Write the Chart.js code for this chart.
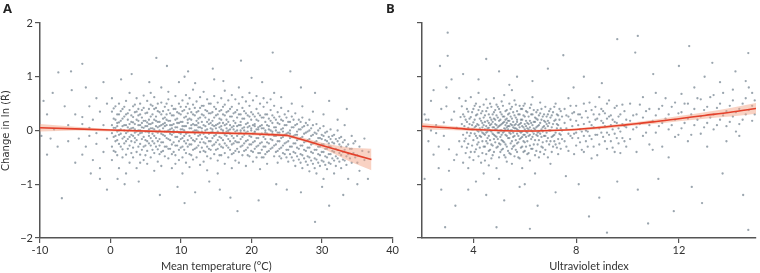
<!DOCTYPE html>
<html>
<head>
<meta charset="utf-8">
<script src="https://cdn.jsdelivr.net/npm/chart.js@4/dist/chart.umd.min.js"></script>
<style>
  html,body{margin:0;padding:0;background:#fff;}
  #wrap{position:relative;width:760px;height:273px;overflow:hidden;}
  .panel{position:absolute;top:0;height:273px;}
  .lab{position:absolute;top:-1px;font:bold 13px "Open Sans",sans-serif;color:#222;}
</style>
</head>
<body>
<div id="wrap">
  <div class="panel" style="left:0;width:400px;"><canvas id="cA" width="400" height="273"></canvas></div>
  <div class="panel" style="left:380px;width:380px;"><canvas id="cB" width="380" height="273"></canvas></div>
  <div class="lab" style="left:3px;">A</div>
  <div class="lab" style="left:386px;">B</div>
</div>
<script>
// ---------- Data ----------
const yTicks = [-2, -1, 0, 1, 2];
const tempTicks = [-10, 0, 10, 20, 30, 40];
const uvTicks = [4, 8, 12];

// Panel A: scatter columns [temperature, [changes]]
const tempCloud = [
 [0.2,[0.35,0.1,-0.05,-0.3,-0.55,0.6]],
 [0.7,[0.2,-0.1,-0.2,0.45,-0.4,0.05]],
 [1.2,[0.5,0.15,-0.08,-0.25,-0.7,0.3,0.0]],
 [1.7,[0.4,0.22,-0.15,-0.35,0.08,-0.5]],
 [2.2,[0.55,0.3,0.1,-0.05,-0.2,-0.45,-0.8]],
 [2.7,[0.38,0.12,-0.12,-0.28,0.02,-0.6,0.7]],
 [3.2,[0.45,0.25,0.05,-0.1,-0.32,-0.5,0.15]],
 [3.7,[0.6,0.2,-0.02,-0.18,-0.4,0.35,-0.7]],
 [4.2,[0.5,0.3,0.1,-0.05,-0.25,-0.45,0.0,-0.6]],
 [4.7,[0.42,0.18,0.05,-0.12,-0.3,-0.55,0.65]],
 [5.2,[0.55,0.33,0.15,-0.02,-0.2,-0.38,-0.62,0.08]],
 [5.7,[0.48,0.26,0.04,-0.14,-0.28,-0.5,0.7,0.12]],
 [6.2,[0.62,0.4,0.2,0.02,-0.1,-0.24,-0.42,-0.75]],
 [6.7,[0.36,0.16,-0.04,-0.2,-0.35,0.5,-0.58,0.06]],
 [7.2,[0.52,0.3,0.1,-0.06,-0.22,-0.4,-0.66,0.8]],
 [7.7,[0.44,0.24,0.08,-0.1,-0.3,-0.48,0.14,-0.02]],
 [8.2,[0.58,0.38,0.18,0.0,-0.16,-0.34,-0.52,0.72]],
 [8.7,[0.46,0.28,0.1,-0.08,-0.26,-0.44,-0.7,0.04]],
 [9.2,[0.64,0.4,0.2,0.06,-0.12,-0.28,-0.46,-0.62]],
 [9.7,[0.5,0.32,0.14,-0.04,-0.2,-0.36,-0.55,0.9]],
 [10.2,[0.56,0.36,0.16,0.02,-0.14,-0.3,-0.5,-0.8,0.08]],
 [10.7,[0.44,0.26,0.08,-0.06,-0.24,-0.42,0.66,-0.6]],
 [11.2,[0.6,0.4,0.22,0.04,-0.1,-0.26,-0.44,-0.68]],
 [11.7,[0.48,0.3,0.12,-0.02,-0.18,-0.36,-0.54,0.76]],
 [12.2,[0.54,0.34,0.18,0.0,-0.16,-0.32,-0.5,0.1]],
 [12.7,[0.62,0.42,0.24,0.06,-0.08,-0.22,-0.4,-0.64]],
 [13.2,[0.46,0.28,0.1,-0.06,-0.22,-0.38,-0.58,0.72]],
 [13.7,[0.58,0.36,0.16,0.02,-0.14,-0.3,-0.48,-0.74]],
 [14.2,[0.5,0.32,0.14,-0.04,-0.2,-0.36,-0.52,0.04]],
 [14.7,[0.64,0.44,0.24,0.08,-0.1,-0.26,-0.44,0.95]],
 [15.2,[0.52,0.3,0.12,-0.02,-0.18,-0.34,-0.56,-0.8]],
 [15.7,[0.6,0.38,0.2,0.02,-0.14,-0.3,-0.46,0.08]],
 [16.2,[0.48,0.28,0.1,-0.08,-0.24,-0.42,-0.62,0.74]],
 [16.7,[0.56,0.36,0.16,0.0,-0.16,-0.32,-0.5,-0.04]],
 [17.2,[0.44,0.26,0.06,-0.1,-0.26,-0.44,0.66,-0.7]],
 [17.7,[0.58,0.34,0.14,-0.02,-0.2,-0.38,-0.56]],
 [18.2,[0.5,0.3,0.1,-0.06,-0.22,-0.4,0.8,-0.6]],
 [18.7,[0.42,0.22,0.04,-0.12,-0.28,-0.46,0.62]],
 [19.2,[0.54,0.32,0.12,-0.04,-0.2,-0.36,-0.66]],
 [19.7,[0.46,0.26,0.08,-0.1,-0.26,-0.48,0.7]],
 [20.2,[0.56,0.3,0.1,-0.06,-0.22,-0.4,-0.58]],
 [20.7,[0.4,0.2,0.02,-0.14,-0.3,-0.5,0.64]],
 [21.2,[0.5,0.28,0.08,-0.08,-0.24,-0.42,-0.72]],
 [21.7,[0.44,0.24,0.04,-0.12,-0.3,-0.5,0.6]],
 [22.2,[0.52,0.3,0.1,-0.06,-0.22,-0.4,-0.62]],
 [22.7,[0.38,0.18,0.0,-0.16,-0.34,0.58]],
 [23.2,[0.46,0.24,0.06,-0.1,-0.28,-0.48,0.7]],
 [23.7,[0.34,0.14,-0.04,-0.2,-0.38,-0.6]],
 [24.2,[0.42,0.2,0.02,-0.14,-0.32,-0.52,0.62]],
 [24.7,[0.3,0.1,-0.08,-0.24,-0.44]],
 [25.2,[0.36,0.16,-0.04,-0.2,-0.36,-0.58]],
 [25.7,[0.26,0.06,-0.12,-0.3,-0.5,0.5]],
 [26.2,[0.32,0.1,-0.08,-0.24,-0.42,-0.66]],
 [26.7,[0.2,0.02,-0.16,-0.34,-0.54]],
 [27.2,[0.24,0.06,-0.12,-0.28,-0.46,-0.7,0.45]],
 [27.7,[0.14,-0.04,-0.2,-0.38,-0.58]],
 [28.2,[0.2,0.0,-0.16,-0.32,-0.5,-0.76]],
 [28.7,[0.1,-0.08,-0.24,-0.42,-0.62,0.35]],
 [29.2,[0.12,-0.06,-0.2,-0.36,-0.54,-0.8]],
 [29.7,[0.04,-0.14,-0.3,-0.46,-0.66]],
 [30.2,[0.08,-0.1,-0.26,-0.4,-0.58,-0.9,0.3]],
 [30.7,[-0.02,-0.2,-0.34,-0.5,-0.72]],
 [31.2,[0.02,-0.16,-0.3,-0.44,-0.62]],
 [31.7,[-0.08,-0.24,-0.4,-0.56,-0.8]],
 [32.2,[0.0,-0.2,-0.36,-0.52,0.2]],
 [32.7,[-0.12,-0.3,-0.46,-0.7]],
 [33.2,[-0.18,-0.36,-0.56,0.1]],
 [33.7,[-0.26,-0.44,-0.9]],
 [34.2,[-0.1,-0.34,-0.6]],
 [34.7,[-0.2,-0.5]],
 [35.3,[-0.3,-0.75]],
 [36.0,[-0.15,-0.55]],
 [36.6,[-0.4]]
];
// Panel A: second set of columns (the denser core of the cloud)
const tempCore = [
 [0.45,[0.22,-0.12,0.05,-0.38,0.41]],[0.95,[0.3,0.08,-0.18,-0.02,-0.46,0.14]],
 [1.45,[0.18,-0.06,0.36,-0.3,0.02]],[1.95,[0.26,0.0,-0.12,0.44,-0.24,0.1]],
 [2.45,[0.2,-0.16,0.06,-0.34,0.32,-0.02]],[2.95,[0.28,0.04,-0.2,0.16,-0.08,-0.42]],
 [3.45,[0.34,0.12,-0.04,-0.22,0.02,-0.14,0.48]],[3.95,[0.1,-0.08,0.28,-0.3,0.18,0.0,0.4]],
 [4.45,[0.24,0.06,-0.16,-0.36,0.14,-0.04,0.38]],[4.95,[0.32,0.18,-0.02,-0.18,0.08,-0.28,-0.46]],
 [5.45,[0.2,0.02,-0.1,0.4,-0.24,0.12,-0.04]],[5.95,[0.3,0.14,-0.06,-0.2,0.04,-0.36,0.46]],
 [6.45,[0.26,0.08,-0.14,0.18,-0.3,-0.02,0.42]],[6.95,[0.34,0.16,0.0,-0.16,-0.28,0.08,-0.44]],
 [7.45,[0.22,0.04,-0.08,0.36,-0.22,0.12,-0.38]],[7.95,[0.3,0.1,-0.02,-0.14,0.2,-0.3,0.5]],
 [8.45,[0.18,0.02,-0.18,0.32,-0.06,-0.34,0.1]],[8.95,[0.28,0.12,-0.04,-0.22,0.4,0.0,-0.4]],
 [9.45,[0.22,0.06,-0.12,0.34,-0.28,0.14,-0.02]],[9.95,[0.3,0.16,0.02,-0.16,-0.32,0.44,-0.06]],
 [10.45,[0.24,0.08,-0.1,0.38,-0.2,0.0,-0.36]],[10.95,[0.32,0.14,-0.04,-0.18,0.2,-0.3,0.5]],
 [11.45,[0.2,0.04,-0.14,0.34,-0.26,0.1,-0.46]],[11.95,[0.28,0.1,-0.06,-0.2,0.42,0.0,-0.34]],
 [12.45,[0.22,0.06,-0.1,0.36,-0.28,0.14,-0.02]],[12.95,[0.3,0.16,-0.02,-0.16,0.46,-0.32,0.04]],
 [13.45,[0.24,0.08,-0.12,0.38,-0.24,0.0,-0.4]],[13.95,[0.32,0.12,-0.06,-0.2,0.2,-0.34,0.5]],
 [14.45,[0.18,0.02,-0.14,0.34,-0.28,0.1,-0.02]],[14.95,[0.28,0.1,-0.08,-0.22,0.4,-0.36,0.04]],
 [15.45,[0.22,0.06,-0.12,0.36,-0.26,0.14,-0.46]],[15.95,[0.3,0.14,-0.04,-0.18,0.44,0.0,-0.32]],
 [16.45,[0.2,0.04,-0.1,0.34,-0.28,0.12,-0.02]],[16.95,[0.26,0.1,-0.06,-0.2,0.4,-0.36,0.02]],
 [17.45,[0.18,0.02,-0.14,0.32,-0.24,0.08,-0.42]],[17.95,[0.24,0.08,-0.1,-0.22,0.38,0.0,-0.34]],
 [18.45,[0.16,0.0,-0.16,0.3,-0.3,0.1,-0.04]],[18.95,[0.22,0.06,-0.08,-0.24,0.36,-0.38,0.0]],
 [19.45,[0.14,-0.02,-0.18,0.28,-0.32,0.06,-0.46]],[19.95,[0.2,0.04,-0.12,-0.26,0.34,0.0,-0.38]],
 [20.45,[0.12,-0.04,-0.2,0.26,-0.34,0.08,-0.02]],[20.95,[0.18,0.02,-0.14,-0.28,0.32,-0.42,0.06]],
 [21.45,[0.1,-0.06,-0.22,0.24,-0.36,0.04,-0.5]],[21.95,[0.16,0.0,-0.16,-0.3,0.3,-0.04,-0.44]],
 [22.45,[0.08,-0.08,-0.24,0.22,-0.38,0.02]],[22.95,[0.14,-0.02,-0.18,-0.32,0.28,-0.06]],
 [23.45,[0.06,-0.1,-0.26,0.2,-0.4,0.0]],[23.95,[0.12,-0.04,-0.2,-0.34,0.26,-0.48]],
 [24.45,[0.04,-0.12,-0.28,0.18,-0.42,-0.02]],[24.95,[0.1,-0.06,-0.22,-0.36,0.24,-0.5]],
 [25.45,[0.0,-0.14,-0.3,0.16,-0.44,-0.06]],[25.95,[0.06,-0.1,-0.24,-0.4,0.2,-0.56]],
 [26.45,[-0.02,-0.18,-0.32,0.12,-0.48,-0.08]],[26.95,[0.02,-0.14,-0.28,-0.44,0.16,-0.6]],
 [27.45,[-0.06,-0.22,-0.36,0.08,-0.52]],[27.95,[-0.02,-0.18,-0.32,-0.48,0.1,-0.64]],
 [28.45,[-0.1,-0.26,-0.4,0.04,-0.56]],[28.95,[-0.04,-0.22,-0.36,-0.52,-0.7]],
 [29.45,[-0.14,-0.3,-0.44,0.0,-0.6]],[29.95,[-0.08,-0.26,-0.4,-0.56,-0.16]],
 [30.45,[-0.18,-0.34,-0.48,-0.04,-0.64]],[30.95,[-0.12,-0.3,-0.44,-0.6,-0.24]],
 [31.45,[-0.22,-0.38,-0.52,-0.1]],[31.95,[-0.16,-0.34,-0.48,-0.66]],
 [32.45,[-0.26,-0.42,-0.58,-0.14]],[32.95,[-0.22,-0.4,-0.54]],
 [33.45,[-0.3,-0.48,-0.64]],[33.95,[-0.34,-0.52]],[34.45,[-0.42,-0.24]],[35.0,[-0.46,-0.6]],[35.7,[-0.38]]
];
const tempOutliers = [
 [-9.5,0.55],[-9,0.3],[-8.2,0.7],[-7.4,1.08],[-6.5,0.45],[-5.6,1.1],[-5.5,0.75],[-5,0.3],[-4,1.24],[-4,0.25],
 [-3.5,0.8],[-3,0.45],[-2.5,0.2],[-2,0.6],[-1.5,0.35],[-1,0.9],[-0.5,0.5],[-9.8,-0.1],[-9,-0.45],[-8.5,-0.15],
 [-7.5,-0.3],[-6.9,-1.26],[-6,-0.2],[-5,-0.6],[-4.5,-0.15],[-4,-0.45],[-3.5,-0.3],[-3,-0.1],[-2.5,-0.55],[-2,-0.25],
 [-1.5,-0.7],[-1,-0.4],[-0.5,-0.15],[-3,0.05],[-1,0.1],[-6,0.1],[-2,-0.05],[-8,0.02],[-4,0.12],[-1.5,-0.9],[-0.5,-1.1],[-2.8,-0.8],
 [1.5,0.95],[3,1.05],[5.5,0.9],[8,1.2],[10.5,1.0],[12,0.88],[14.5,1.15],[16,0.92],[18.5,1.3],[20,0.98],[23,1.45],
 [25.5,1.1],[21.5,0.9],[27,0.8],[29,0.7],[31,0.55],[33.5,0.4],[6.5,1.35],[11,1.1],
 [2,-1.0],[4,-0.95],[7,-1.2],[9.5,-1.05],[12,-1.15],[14,-0.95],[17,-1.25],[18,-1.5],[21,-1.3],[23.5,-1.0],[25,-1.1],
 [27,-1.15],[29,-1.7],[31,-1.4],[33,-1.2],[35,-1.0],[30,-1.05],[10.5,-1.35],[15.5,-1.1],[1,-0.9],[36.5,-0.9]
];
// Panel A: fitted curve and 95% band
const tempFitX = [-10, -5, 0, 10, 20, 25, 28, 30, 32, 34, 37];
const tempFit  = [0.05, 0.03, 0.01, -0.03, -0.06, -0.09, -0.2, -0.28, -0.355, -0.43, -0.54];
const tempLo   = [-0.02, 0.0, -0.02, -0.05, -0.09, -0.12, -0.23, -0.33, -0.45, -0.58, -0.74];
const tempHi   = [0.12, 0.07, 0.03, -0.01, -0.03, -0.06, -0.16, -0.23, -0.28, -0.32, -0.34];

// Panel B: scatter columns [UV index, [changes]]
const uvCloud = [
 [2.1,[0.3,-0.9]],[2.15,[0.2]],[2.25,[-0.2,0.2]],[2.35,[0.55,0.0]],[2.45,[-0.45,0.75]],[2.55,[0.1,-0.05]],
 [2.65,[-0.7,-0.3]],[2.75,[0.4,-1.1]],[2.85,[-0.1,0.15]],[2.95,[0.8,0.45]],[3.05,[-0.35,-0.75]],[3.15,[0.2,0.95]],
 [3.25,[-0.55,0.35]],[3.35,[0.05,-0.45]],[3.45,[0.6,-0.2]],[3.5,[0.25]],
 [3.55,[0.12,-0.3,0.45]],[3.6,[-0.08,0.3,-0.6]],[3.7,[0.2,-0.15,0.55,-0.42]],[3.8,[0.05,-0.25,0.35,-0.7]],
 [3.9,[-0.05,0.25,-0.4,0.62]],[4.0,[0.15,-0.18,0.4,-0.55,0.02]],[4.1,[-0.1,0.28,-0.35,0.5,0.08]],
 [4.2,[0.1,-0.22,0.38,-0.48,-0.02,0.7]],[4.3,[0.18,-0.12,0.32,-0.6,0.0]],[4.4,[-0.06,0.24,-0.3,0.48,-0.8,0.1]],
 [4.5,[0.08,-0.2,0.36,-0.44,0.58,-0.04]],[4.6,[0.14,-0.1,0.3,-0.38,0.05,-0.65]],[4.7,[-0.02,0.2,-0.26,0.44,-0.52,0.12]],
 [4.8,[0.06,-0.16,0.34,-0.4,0.6,-0.08,0.22]],[4.9,[0.1,-0.12,0.28,-0.32,-0.7,0.02,0.48]],
 [5.0,[-0.04,0.18,-0.24,0.4,-0.5,0.08,-0.9]],[5.1,[0.12,-0.08,0.3,-0.36,0.54,0.0,-0.18]],
 [5.2,[0.04,-0.22,0.26,-0.46,0.16,-0.02,0.66]],[5.3,[-0.1,0.14,-0.3,0.38,-0.58,0.06,0.22]],
 [5.4,[0.08,-0.14,0.32,-0.42,0.5,-0.04,0.18]],[5.5,[0.0,0.22,-0.2,0.44,-0.34,0.1,-0.62,0.75]],
 [5.6,[0.1,-0.1,0.28,-0.28,0.04,-0.48,0.56]],[5.7,[-0.06,0.16,-0.24,0.36,-0.4,0.02,0.2]],
 [5.8,[0.06,-0.16,0.3,-0.52,0.12,-0.02,0.46]],[5.9,[-0.02,0.2,-0.3,0.4,-0.12,0.08,-0.7]],
 [6.0,[0.12,-0.08,0.26,-0.38,0.5,-0.22,0.02]],[6.1,[0.04,-0.2,0.34,-0.44,0.14,-0.04]],
 [6.2,[-0.08,0.18,-0.28,0.42,0.06,-0.56]],[6.3,[0.1,-0.12,0.3,-0.34,0.62,-0.02]],
 [6.4,[0.02,-0.18,0.24,-0.46,0.16,-0.8]],[6.5,[-0.04,0.2,-0.26,0.38,0.08,-0.1]],
 [6.6,[0.14,-0.06,0.32,-0.4,0.52]],[6.7,[0.06,-0.22,0.26,-0.32,-0.02]],[6.8,[-0.1,0.16,-0.36,0.44,0.04]],
 [6.9,[0.08,-0.14,0.3,-0.5,0.18]],[7.0,[0.0,0.24,-0.2,0.4,-0.62]],[7.1,[0.12,-0.1,0.34,-0.3]],
 [7.2,[-0.04,0.2,-0.26,0.5]],[7.3,[0.1,-0.16,0.28,-0.44]],[7.4,[0.04,-0.08,0.36,-0.34]],
 [7.55,[0.14,-0.2,0.4]],[7.7,[-0.06,0.26,-0.38,0.6]],[7.85,[0.08,-0.14,0.32]],[8.0,[0.18,-0.28,0.46,-0.04]],
 [8.15,[0.02,-0.22,0.3]],[8.3,[0.12,-0.1,0.5,-0.4]],[8.45,[-0.02,0.24,-0.3]],[8.6,[0.1,-0.16,0.38,-0.52]],
 [8.75,[0.2,-0.08,0.44]],[8.9,[0.04,-0.26,0.3,0.62]],[9.05,[0.14,-0.12,0.36]],[9.2,[-0.04,0.22,-0.34,0.5]],
 [9.35,[0.1,-0.2,0.28]],[9.5,[0.16,-0.06,0.42,-0.4]],[9.65,[0.04,0.26,-0.24]],[9.8,[0.12,-0.14,0.48]],
 [9.95,[0.2,-0.3,0.06]],
 [10.1,[0.18,-0.16,0.5]],[10.35,[0.06,0.3,-0.4]],[10.6,[0.24,-0.1,0.62]],[10.85,[0.1,0.4,-0.26]],
 [11.1,[0.28,-0.04,0.7]],[11.35,[0.14,0.46,-0.3]],[11.6,[0.3,0.02,-0.5]],[11.85,[0.2,0.52,-0.12]],
 [12.1,[0.34,0.04,0.68]],[12.35,[0.22,-0.2,0.5]],[12.6,[0.4,0.1,0.8]],[12.85,[0.26,-0.06,0.58]],
 [13.1,[0.44,0.14,-0.3]],[13.35,[0.3,0.66,0.02]],[13.6,[0.5,0.2,0.9]],[13.85,[0.36,0.08,-0.2]],
 [14.1,[0.56,0.26,0.76]],[14.35,[0.4,0.12,-0.1]],[14.6,[0.6,0.3,0.92]],[14.85,[0.46,0.18,0.7]]
];
// Panel B: second set of columns (denser core)
const uvCore = [
 [3.65,[0.08,-0.2,0.26]],[3.75,[-0.04,0.16,-0.32,0.4]],[3.85,[0.12,-0.1,0.22,-0.5]],[3.95,[0.02,-0.28,0.34,0.1]],
 [4.05,[0.2,-0.06,-0.4,0.46,0.06]],[4.15,[-0.14,0.12,0.3,-0.26,0.0]],[4.25,[0.04,-0.32,0.22,0.44,-0.1]],
 [4.35,[0.14,-0.04,-0.2,0.36,-0.42,0.06]],[4.45,[-0.08,0.28,0.02,-0.3,0.16,-0.56]],
 [4.55,[0.18,-0.14,0.04,0.42,-0.24,-0.02]],[4.65,[0.0,0.24,-0.18,0.1,-0.36,0.5]],
 [4.75,[0.16,-0.06,0.3,-0.28,0.06,-0.46]],[4.85,[-0.1,0.2,0.02,-0.22,0.38,0.12]],
 [4.95,[0.06,-0.3,0.24,-0.04,0.44,-0.16]],[5.05,[0.2,0.0,-0.12,0.34,-0.4,0.1,-0.26]],
 [5.15,[-0.04,0.26,-0.2,0.14,0.46,-0.34]],[5.25,[0.1,-0.08,0.36,-0.26,0.02,-0.5,0.2]],
 [5.35,[0.02,0.18,-0.14,0.3,-0.38,0.08]],[5.45,[-0.06,0.12,0.4,-0.24,0.0,-0.44,0.26]],
 [5.55,[0.16,-0.12,0.06,-0.3,0.34,-0.04]],[5.65,[0.04,0.24,-0.18,0.48,-0.36,0.12]],
 [5.75,[-0.1,0.1,0.3,-0.22,0.0,-0.5]],[5.85,[0.2,-0.04,0.14,-0.32,0.4,-0.14]],
 [5.95,[0.06,-0.2,0.28,-0.08,0.46,-0.4]],[6.05,[-0.02,0.18,-0.3,0.36,0.08,-0.12]],
 [6.15,[0.12,-0.1,0.26,-0.42,0.02]],[6.25,[0.0,0.3,-0.16,0.14,-0.34,0.48]],
 [6.35,[0.16,-0.06,-0.26,0.38,0.04]],[6.45,[-0.08,0.22,0.06,-0.38,0.34]],
 [6.55,[0.1,-0.18,0.28,-0.02,-0.5]],[6.65,[0.02,0.2,-0.3,0.4,-0.12]],
 [6.75,[0.18,-0.1,0.08,-0.44,0.3]],[6.85,[-0.04,0.26,-0.2,0.12]],[6.95,[0.14,-0.26,0.36,0.0]],
 [7.05,[0.06,-0.12,0.28,-0.4]],[7.15,[-0.08,0.18,0.44,-0.2]],[7.25,[0.12,-0.32,0.04,0.3]],
 [7.35,[0.2,-0.06,-0.24,0.4]],[7.45,[0.0,0.26,-0.16]],
 [7.62,[0.04,-0.3,0.28]],[7.78,[0.2,-0.1,0.46]],[7.92,[-0.06,0.34,-0.44]],[8.08,[0.1,0.3,-0.14]],
 [8.22,[0.24,-0.02,-0.36]],[8.38,[0.0,0.36,-0.2]],[8.52,[0.16,-0.1,0.52]],[8.68,[0.06,0.3,-0.3]],
 [8.82,[-0.08,0.22,-0.46]],[8.98,[0.18,-0.04,0.4]],[9.12,[0.08,0.32,-0.2]],[9.28,[0.26,-0.08,0.56]],
 [9.42,[0.02,0.2,-0.32]],[9.58,[0.14,0.46,-0.14]],[9.72,[0.3,-0.02,-0.42]],[9.88,[0.08,0.36,-0.2]],
 [10.22,[0.28,0.02]],[10.48,[0.12,0.48]],[10.72,[0.36,-0.04]],[10.98,[0.18,-0.36]],[11.22,[0.4,0.08]],
 [11.48,[0.22,0.6]],[11.72,[0.1,0.44]],[11.98,[0.32,-0.08]],[12.22,[0.14,0.5]],[12.48,[0.3,-0.08]],
 [12.72,[0.2,0.6]],[12.98,[0.38,0.06]],[13.22,[0.24,0.62]],[13.48,[0.42,0.1]],[13.72,[0.28,0.7]],
 [13.98,[0.46,0.16]],[14.22,[0.34,-0.02]],[14.48,[0.5,0.2]],[14.72,[0.38,0.8]],[14.95,[0.3,0.56]]
];
const uvOutliers = [
 [3.8,-1.1],[4.5,-1.2],[5.2,-1.3],[5.8,-1.05],[6.5,-1.4],[7.2,-1.15],[8.1,-1.0],[8.9,-1.25],[9.6,-0.95],
 [10.4,-1.1],[11.2,-0.9],[12.5,-1.05],[13.7,-0.8],[14.5,-1.2],[4.1,-0.95],[6.0,-1.0],[7.6,-0.85],
 [2.9,-1.8],[4.9,-1.8],[6.2,-1.83],[9.2,-1.9],[10.8,-1.73],[14.7,-1.85],[3.3,-1.4],[11.8,-1.5],[8.5,-1.6],[12.9,-1.35],
 [3.0,1.82],[3.0,1.39],[4.5,1.33],[7.5,1.4],[9.6,1.7],[10.4,1.76],[10.3,1.45],[12.4,1.57],[14.7,1.44],[13.3,1.26],
 [2.7,1.2],[3.6,1.05],[4.2,0.95],[5.0,1.1],[5.7,1.0],[6.3,0.92],[6.9,1.15],[8.3,1.0],[9.0,0.88],[11.0,1.05],
 [12.0,1.2],[13.0,1.0],[14.2,1.1],[5.4,0.85],[7.9,0.8]
];
// Panel B: fitted curve and 95% band
const uvFitX = [2, 3, 4, 5, 6, 7, 8, 9, 10, 11, 12, 13, 14, 15];
const uvFit  = [0.08, 0.05, 0.02, 0.0, -0.01, 0.0, 0.02, 0.06, 0.11, 0.16, 0.22, 0.28, 0.34, 0.41];
const uvLo   = [0.02, 0.01, -0.01, -0.02, -0.03, -0.02, 0.0, 0.03, 0.08, 0.12, 0.17, 0.22, 0.26, 0.31];
const uvHi   = [0.14, 0.09, 0.05, 0.02, 0.01, 0.02, 0.04, 0.09, 0.14, 0.2, 0.27, 0.34, 0.42, 0.51];

// ---------- Rendering ----------
const FONT = 'Lato, "Open Sans", sans-serif';
const AXIS = '#555';
const TXT = '#333';
const RED = '#e4412b';
const BAND = 'rgba(244,165,135,0.5)';
const DOT = 'rgba(92,110,124,0.62)';

function cloudPts(colSets, extra){
  const pts = [];
  colSets.forEach(cols => cols.forEach(c => c[1].forEach(y => pts.push({x:c[0], y:y}))));
  extra.forEach(p => pts.push({x:p[0], y:p[1]}));
  return pts;
}
function pairs(xs, ys){ return xs.map((x,i)=>({x:x, y:ys[i]})); }

function makeChart(id, opts){
  const curve = opts.smooth ? {tension:0.4, cubicInterpolationMode:'monotone'} : {tension:0};
  return new Chart(document.getElementById(id), {
    type: 'scatter',
    data: { datasets: [
      Object.assign({ type:'line', data: pairs(opts.fx, opts.fy), borderColor: RED, borderWidth: 1.6, pointRadius: 0, fill:false }, curve),
      Object.assign({ type:'line', data: pairs(opts.fx, opts.lo), borderWidth: 0, borderColor:'rgba(0,0,0,0)', pointRadius: 0, fill:false }, curve),
      Object.assign({ type:'line', data: pairs(opts.fx, opts.hi), borderWidth: 0, borderColor:'rgba(0,0,0,0)', pointRadius: 0, fill:'-1', backgroundColor: BAND }, curve),
      { data: opts.pts, pointRadius: 1.15, pointBorderWidth: 0, backgroundColor: DOT, pointBackgroundColor: DOT }
    ]},
    options: {
      responsive:false, animation:false, maintainAspectRatio:false,
      layout:{ padding: opts.padding },
      plugins:{ legend:{display:false}, tooltip:{enabled:false} },
      scales:{
        x:{ type:'linear', min:opts.xmin, max:opts.xmax,
            afterBuildTicks: s => { s.ticks = opts.xticks.map(v=>({value:v})); },
            grid:{ drawOnChartArea:false, drawTicks:true, tickLength:5, color:AXIS, lineWidth:1.2 },
            border:{ color:AXIS, width:1.5 },
            ticks:{ color:TXT, font:{family:FONT, size:11}, padding:1, maxRotation:0, autoSkip:false },
            title:{ display:true, text:opts.xtitle, color:TXT, font:{family:FONT, size:11}, padding:{top:4,bottom:0} },
            afterFit: s => { s.height = 35; } },
        y:{ type:'linear', min:-2, max:2,
            afterBuildTicks: s => { s.ticks = yTicks.map(v=>({value:v})); },
            grid:{ drawOnChartArea:false, drawTicks:true, tickLength:5, color:AXIS, lineWidth:1.2 },
            border:{ color:AXIS, width:1.5 },
            ticks:{ color:TXT, font:{family:FONT, size:11}, padding:2, autoSkip:false,
                    callback: opts.ylabels ? (v => String(v).replace('-', '\u2212')) : (() => '') },
            title:{ display: !!opts.ytitle, text: opts.ytitle || '', color:TXT, font:{family:'"DejaVu Sans", "Noto Sans", sans-serif', size:10}, padding:{top:0,bottom:2} },
            afterFit: s => { s.width = opts.ywidth; } }
      }
    }
  });
}

makeChart('cA', {
  fx: tempFitX, fy: tempFit, lo: tempLo, hi: tempHi, pts: cloudPts([tempCloud, tempCore], tempOutliers),
  xmin:-10, xmax:40, xticks: tempTicks, xtitle:'Mean temperature (°C)',
  ylabels:true, ytitle:'Change in ln (R\u0302)', ywidth:40,
  padding:{ top:23, right:6, left:0, bottom:0 }
});
makeChart('cB', {
  fx: uvFitX, fy: uvFit, lo: uvLo, hi: uvHi, pts: cloudPts([uvCloud, uvCore], uvOutliers), smooth:true,
  xmin:2, xmax:15, xticks: uvTicks, xtitle:'Ultraviolet index',
  ylabels:false, ytitle:null, ywidth:42,
  padding:{ top:23, right:0, left:0, bottom:0 }
});
</script>
</body>
</html>
